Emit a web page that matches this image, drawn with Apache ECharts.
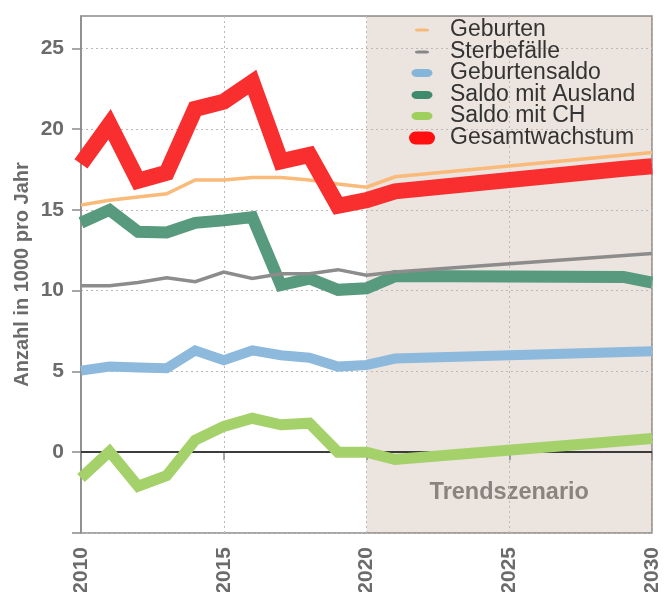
<!DOCTYPE html>
<html lang="de">
<head>
<meta charset="UTF-8">
<title>Bevölkerungsentwicklung</title>
<script src="https://cdn.jsdelivr.net/npm/echarts@6/dist/echarts.min.js"></script>
<style>html,body{margin:0;padding:0;background:#fff}</style>
</head>
<body>
<div id="chart" style="width:664px;height:592px"></div>
<script>
// Werte in 1000 pro Jahr; null = kein eigener Stützpunkt (Linie wird durchgezogen)
var years = [2010, 2011, 2012, 2013, 2014, 2015, 2016, 2017, 2018, 2019, 2020, 2021, 2029, 2030];
var geburten       = [15.3, 15.6, 15.8, 16.0, 16.85, 16.85, 17.0, 17.0, 16.85, 16.6, 16.4, 17.05, null, 18.55];
var sterbefaelle   = [10.3, 10.3, 10.5, 10.8, 10.55, 11.15, 10.75, 11.05, 11.05, 11.3, 10.95, 11.15, null, 12.3];
var geburtensaldo  = [5.05, 5.3, 5.25, 5.2, 6.3, 5.7, 6.3, 6.0, 5.85, 5.3, 5.4, 5.8, null, 6.25];
var saldoAusland   = [14.2, 15.0, 13.65, 13.6, 14.2, 14.35, 14.55, 10.35, 10.75, 10.05, 10.15, 10.9, 10.85, 10.5];
var saldoCH        = [-1.6, 0.05, -2.1, -1.45, 0.75, 1.6, 2.1, 1.7, 1.8, 0.0, 0.0, -0.45, null, 0.85];
var gesamt         = [17.85, 20.3, 16.8, 17.3, 21.25, 21.7, 22.9, 18.0, 18.4, 15.25, 15.6, 16.15, 17.55, 17.7];

var yTickValues = [-5, 0, 5, 10, 15, 20, 25];
var yLabelValues = [0, 5, 10, 15, 20, 25];
var trendFrom = 2020, trendTo = 2030;

var font = 'Liberation Sans, Arial, sans-serif';
var axisGrey = '#8a8a8a';
var labelGrey = '#6b6b6b';
var pill = 'path://M1,0 H3 A1,1 0 0 1 3,2 H1 A1,1 0 0 1 1,0 Z';

function pairs(vals) {
    return years.map(function (y, i) { return [y, vals[i]]; });
}

function line(name, vals, color, width) {
    return {
        name: name,
        type: 'line',
        data: pairs(vals),
        connectNulls: true,
        symbol: 'none',
        showSymbol: false,
        silent: true,
        color: color,
        lineStyle: { color: color, width: width, join: 'miter', cap: 'butt' }
    };
}

// Legende: je Eintrag eigene Symbolgrösse, Text beginnt bei x=450
var legendItems = [
    { name: 'Geburten', color: '#f8b877', w: 14, h: 3, cx: 422, cy: 30 },
    { name: 'Sterbefälle', color: '#878787', w: 14, h: 3, cx: 422, cy: 52 },
    { name: 'Geburtensaldo', color: '#86b5da', w: 21, h: 8, cx: 422, cy: 73 },
    { name: 'Saldo mit Ausland', color: '#3f8b6b', w: 21, h: 8, cx: 422, cy: 95 },
    { name: 'Saldo mit CH', color: '#9fd05e', w: 21, h: 8, cx: 422, cy: 116 },
    { name: 'Gesamtwachstum', color: '#ff1010', w: 26, h: 13, cx: 422, cy: 138 }
];
var legends = legendItems.map(function (it) {
    var left = it.cx - it.w / 2;
    return {
        data: [{ name: it.name, icon: pill, itemStyle: { color: it.color } }],
        left: left,
        top: it.cy - 11.5,
        padding: 0,
        itemWidth: it.w,
        itemHeight: it.h,
        symbolKeepAspect: false,
        selectedMode: false,
        textStyle: {
            fontFamily: font, fontSize: 23, color: '#333', lineHeight: 23,
            padding: [0, 0, 0, 450 - (left + it.w + 5)]
        }
    };
});

var chart = echarts.init(document.getElementById('chart'));
var option = {
    animation: false,
    backgroundColor: '#fff',
    grid: {
        left: 81, right: 12, top: 16, bottom: 59,
        containLabel: false,
        outerBoundsMode: 'none',
        show: true, borderColor: axisGrey, borderWidth: 1.5, backgroundColor: 'transparent'
    },
    legend: legends,
    xAxis: {
        type: 'value',
        z: 1.5,
        min: 2010, max: 2030, interval: 5,
        axisLine: { show: true, lineStyle: { color: axisGrey, width: 1.5 } },
        axisTick: { show: true, length: 8, lineStyle: { color: axisGrey, width: 1.5 } },
        axisLabel: {
            rotate: 90, margin: 14, fontFamily: font, fontSize: 21, fontWeight: 'bold',
            color: labelGrey,
            formatter: function (v) { return String(v); }
        },
        splitLine: { show: true, lineStyle: { color: '#bdb8b4', width: 1, type: [2, 3] } }
    },
    yAxis: {
        type: 'value',
        z: 1.5,
        min: -5, max: 27, interval: 5,
        name: 'Anzahl in 1000 pro Jahr',
        nameLocation: 'middle',
        nameGap: 49,
        nameMoveOverlap: false,
        nameTextStyle: { fontFamily: font, fontSize: 20, fontWeight: 'bold', color: labelGrey },
        axisLine: { show: true, lineStyle: { color: axisGrey, width: 1.5 } },
        axisTick: { show: true, length: 9, customValues: yTickValues, lineStyle: { color: axisGrey, width: 1.5 } },
        axisLabel: {
            margin: 17, fontFamily: font, fontSize: 21, fontWeight: 'bold', color: labelGrey,
            customValues: yLabelValues
        },
        splitLine: { show: true, lineStyle: { color: '#bdb8b4', width: 1, type: [2, 3] } }
    },
    series: [
        {
            name: 'trend',
            type: 'line',
            data: [],
            silent: true,
            markArea: {
                silent: true,
                z: 1,
                itemStyle: { color: 'rgba(160,120,90,0.2)' },
                label: {
                    show: true, position: 'insideBottom', distance: 28,
                    formatter: 'Trendszenario',
                    fontFamily: font, fontSize: 23.5, fontWeight: 'bold', color: '#8b837e'
                },
                data: [[{ xAxis: trendFrom }, { xAxis: trendTo }]]
            },
            markLine: {
                silent: true,
                z: 1.8,
                symbol: 'none',
                label: { show: false },
                lineStyle: { color: '#1a1a1a', width: 1.5, type: 'solid' },
                data: [{ yAxis: 0 }]
            }
        },
        line('Saldo mit Ausland', saldoAusland, '#579a7d', 12),
        line('Sterbefälle', sterbefaelle, '#8c8c8c', 3.5),
        line('Geburtensaldo', geburtensaldo, '#8cb9dc', 10),
        line('Saldo mit CH', saldoCH, '#a5d16b', 11),
        line('Geburten', geburten, '#f9ba7a', 3.5),
        line('Gesamtwachstum', gesamt, '#f92e2e', 16)
    ]
};
chart.setOption(option);
</script>
</body>
</html>
